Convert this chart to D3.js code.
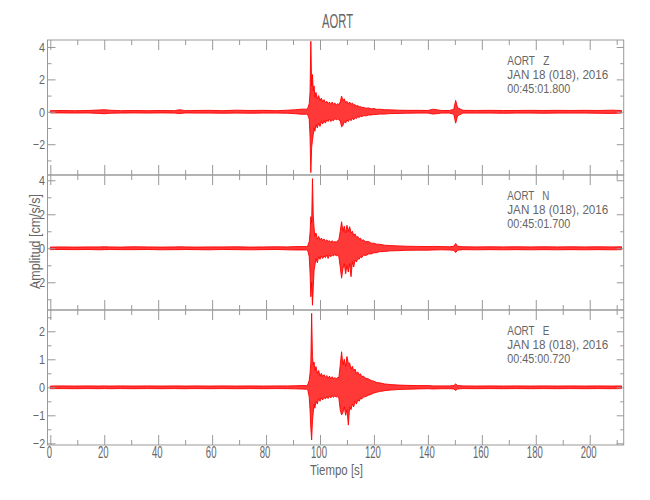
<!DOCTYPE html>
<html>
<head>
<meta charset="utf-8">
<script src="https://cdn.jsdelivr.net/npm/d3@7"></script>
<style>
  html, body { margin: 0; padding: 0; background: #fff; }
  svg { display: block; }
  text { font-family: "Liberation Sans", "DejaVu Sans", Arial, sans-serif; fill: #666; }
</style>
</head>
<body>
<svg id="chart" width="650" height="500"></svg>
<script>
// ---------------- DATA ----------------
const title = "AORT";
const station = "AORT";
const components = ["Z", "N", "E"];
const dateLabel = "JAN 18 (018), 2016";
const startTimes = ["00:45:01.800", "00:45:01.700", "00:45:00.720"];
const xLabel = "Tiempo [s]";
const yLabel = "Amplitud [cm/s/s]";

// time keyframes (s) of the envelope readings
const T = [0, 4, 9, 14, 18, 20, 22, 26, 31, 36, 41, 46, 48, 50, 54, 59, 64, 69, 74, 79, 84, 88, 91, 93,
  95, 95.5, 96, 96.3, 96.6, 96.9, 97.2, 97.5, 97.8, 98.1, 98.5, 99, 99.5, 100, 100.5, 101, 101.5, 102, 102.5, 103,
  103.5, 104, 104.5, 105, 105.5, 106, 106.5, 107, 107.5, 108, 108.5, 109, 109.5, 110, 110.5, 111, 111.5, 112, 112.5, 113,
  113.5, 114, 114.5, 115, 115.5, 116, 117, 118, 119, 120, 121, 122, 124, 126,
  129, 132, 136, 140, 142, 145, 148, 149.6, 150.3, 151, 153, 158, 163, 168, 173, 178, 183, 188, 193, 198, 203, 208, 211.8];

// Z component: upper / lower envelope (cm/s/s)
const zHi = [0.07, 0.08, 0.07, 0.08, 0.11, 0.13, 0.1, 0.07, 0.08, 0.07, 0.08, 0.07, 0.13, 0.07, 0.08, 0.09, 0.07, 0.1, 0.08, 0.09, 0.07, 0.1, 0.13, 0.16,
  0.16, 0.25, 0.5, 1.2, 4.35, 1.6, 2.3, 1.3, 1.6, 0.9, 1.2, 0.8, 1.0, 0.7, 0.85, 0.6, 0.75, 0.55, 0.65, 0.5,
  0.6, 0.45, 0.6, 0.45, 0.55, 0.4, 0.5, 0.45, 0.6, 0.97, 0.7, 0.8, 0.55, 0.65, 0.5, 0.6, 0.45, 0.55, 0.4, 0.45,
  0.35, 0.4, 0.3, 0.33, 0.26, 0.28, 0.22, 0.24, 0.18, 0.2, 0.15, 0.16, 0.13, 0.12,
  0.1, 0.09, 0.09, 0.08, 0.16, 0.08, 0.08, 0.15, 0.7, 0.25, 0.09, 0.08, 0.09, 0.08, 0.08, 0.09, 0.08, 0.09, 0.08, 0.09, 0.08, 0.1, 0.08];
const zLo = [-0.07, -0.07, -0.08, -0.07, -0.1, -0.12, -0.09, -0.08, -0.07, -0.08, -0.07, -0.08, -0.11, -0.07, -0.08, -0.08, -0.09, -0.08, -0.09, -0.08, -0.08, -0.09, -0.12, -0.15,
  -0.15, -0.2, -0.45, -1.5, -3.75, -2.2, -1.75, -1.4, -1.0, -1.2, -0.8, -1.0, -0.7, -0.9, -0.6, -0.75, -0.55, -0.7, -0.5, -0.6,
  -0.45, -0.6, -0.5, -0.55, -0.4, -0.5, -0.45, -0.5, -0.55, -0.93, -0.85, -0.6, -0.7, -0.5, -0.6, -0.45, -0.55, -0.4, -0.5, -0.35,
  -0.42, -0.3, -0.35, -0.28, -0.3, -0.24, -0.25, -0.2, -0.2, -0.16, -0.17, -0.14, -0.14, -0.11,
  -0.1, -0.09, -0.08, -0.08, -0.14, -0.08, -0.08, -0.15, -0.7, -0.25, -0.08, -0.08, -0.08, -0.09, -0.08, -0.08, -0.09, -0.08, -0.08, -0.08, -0.09, -0.1, -0.08];

// N component
const nHi = [0.07, 0.08, 0.07, 0.08, 0.08, 0.09, 0.08, 0.07, 0.09, 0.08, 0.07, 0.08, 0.09, 0.08, 0.07, 0.08, 0.08, 0.09, 0.07, 0.08, 0.09, 0.08, 0.1, 0.1,
  0.1, 0.15, 0.4, 0.9, 1.86, 1.5, 4.1, 1.9, 1.2, 0.7, 0.9, 0.55, 0.7, 0.5, 0.6, 0.45, 0.55, 0.4, 0.5, 0.4,
  0.45, 0.35, 0.45, 0.35, 0.4, 0.35, 0.45, 0.5, 1.0, 1.56, 1.0, 1.3, 0.9, 1.35, 1.0, 1.27, 0.9, 1.0, 0.75, 0.85,
  0.65, 0.7, 0.55, 0.6, 0.45, 0.5, 0.38, 0.4, 0.3, 0.3, 0.24, 0.24, 0.18, 0.16,
  0.14, 0.12, 0.11, 0.1, 0.11, 0.1, 0.09, 0.12, 0.28, 0.12, 0.09, 0.08, 0.09, 0.08, 0.09, 0.08, 0.09, 0.08, 0.09, 0.08, 0.09, 0.08, 0.09];
const nLo = [-0.08, -0.07, -0.08, -0.07, -0.09, -0.08, -0.07, -0.08, -0.08, -0.07, -0.09, -0.08, -0.08, -0.07, -0.08, -0.09, -0.07, -0.08, -0.09, -0.08, -0.07, -0.09, -0.1, -0.1,
  -0.1, -0.15, -0.5, -1.4, -2.85, -2.0, -3.35, -2.3, -1.3, -1.0, -0.6, -0.85, -0.5, -0.65, -0.45, -0.6, -0.45, -0.55, -0.4, -0.6,
  -0.4, -0.5, -0.4, -0.45, -0.35, -0.45, -0.4, -0.5, -1.1, -1.76, -1.2, -0.9, -1.5, -1.0, -1.4, -0.9, -1.67, -0.8, -1.1, -0.7,
  -0.8, -0.6, -0.65, -0.5, -0.55, -0.4, -0.42, -0.33, -0.33, -0.26, -0.26, -0.2, -0.19, -0.15,
  -0.14, -0.12, -0.11, -0.11, -0.1, -0.09, -0.1, -0.12, -0.25, -0.11, -0.08, -0.09, -0.08, -0.09, -0.08, -0.09, -0.08, -0.09, -0.08, -0.09, -0.08, -0.09, -0.08];

// E component
const eHi = [0.045, 0.05, 0.045, 0.05, 0.045, 0.05, 0.045, 0.05, 0.045, 0.05, 0.045, 0.05, 0.05, 0.045, 0.05, 0.045, 0.05, 0.045, 0.05, 0.045, 0.05, 0.05, 0.055, 0.06,
  0.06, 0.1, 0.25, 0.5, 0.9, 2.64, 1.1, 0.8, 0.9, 0.6, 0.74, 0.5, 0.6, 0.4, 0.5, 0.38, 0.45, 0.35, 0.42, 0.32,
  0.4, 0.3, 0.38, 0.3, 0.35, 0.3, 0.35, 0.35, 0.8, 1.27, 0.8, 1.0, 0.75, 1.1, 0.85, 0.87, 0.65, 0.75, 0.6, 0.65,
  0.5, 0.55, 0.45, 0.48, 0.38, 0.4, 0.32, 0.3, 0.24, 0.22, 0.17, 0.16, 0.12, 0.1,
  0.08, 0.07, 0.06, 0.06, 0.05, 0.05, 0.05, 0.06, 0.12, 0.06, 0.05, 0.045, 0.05, 0.045, 0.05, 0.045, 0.05, 0.045, 0.05, 0.045, 0.05, 0.045, 0.05];
const eLo = [-0.05, -0.045, -0.05, -0.045, -0.05, -0.045, -0.05, -0.045, -0.05, -0.045, -0.05, -0.045, -0.05, -0.05, -0.045, -0.05, -0.045, -0.05, -0.045, -0.05, -0.045, -0.05, -0.055, -0.06,
  -0.07, -0.1, -0.35, -0.8, -1.47, -1.88, -1.2, -0.9, -0.6, -0.75, -0.5, -0.6, -0.4, -0.5, -0.38, -0.45, -0.35, -0.42, -0.33, -0.4,
  -0.32, -0.38, -0.3, -0.36, -0.3, -0.35, -0.32, -0.4, -0.8, -0.99, -0.9, -0.7, -1.0, -0.8, -1.35, -0.7, -0.8, -0.6, -0.7, -0.5,
  -0.6, -0.45, -0.5, -0.4, -0.42, -0.35, -0.33, -0.28, -0.25, -0.2, -0.18, -0.15, -0.12, -0.1,
  -0.08, -0.07, -0.06, -0.05, -0.06, -0.05, -0.05, -0.06, -0.11, -0.06, -0.045, -0.05, -0.045, -0.05, -0.045, -0.05, -0.045, -0.05, -0.045, -0.05, -0.045, -0.05, -0.045];

// axis extents and ticks
const xDomain = [-1.04, 212.6];
const xMajorTicks = [0, 20, 40, 60, 80, 100, 120, 140, 160, 180, 200];
const xMinorTicks = [10, 30, 50, 70, 90, 110, 130, 150, 170, 190, 210];
const yDomains = [[-3.9, 4.43], [-3.63, 4.31], [-2.06, 2.76]];
const yMajorTicks = [[-2, 0, 2, 4], [-2, 0, 2, 4], [-2, -1, 0, 1, 2]];
const yMinorTicks = [[-3, -1, 1, 3], [-3, -1, 1, 3], [-1.5, -0.5, 0.5, 1.5, 2.5]];

// ---------------- DRAWING ----------------
const series = [[zHi, zLo], [nHi, nLo], [eHi, eLo]];
const svg = d3.select("#chart");
const L = 47.5, R = 623.7, TOP = 40, PH = 135;
const frameColor = "#999";
const textColor = "#666";
const x = d3.scaleLinear().domain(xDomain).range([L, R]);

function styleAxis(g) {
  g.select(".domain").remove();
  g.selectAll(".tick line").attr("stroke", frameColor).attr("stroke-width", 1);
}

series.forEach(([hi, lo], i) => {
  const top = TOP + i * PH, bot = top + PH;
  const y = d3.scaleLinear().domain(yDomains[i]).range([bot, top]);
  const g = svg.append("g");

  const clipId = "clip" + i;
  svg.append("clipPath").attr("id", clipId)
    .append("rect").attr("x", L).attr("y", top - 6).attr("width", R - L).attr("height", PH + 12);

  const area = d3.area()
    .x((d, j) => x(T[j]))
    .y0((d, j) => y(lo[j]))
    .y1((d, j) => y(hi[j]));
  g.append("path").datum(T)
    .attr("clip-path", `url(#${clipId})`)
    .attr("d", area)
    .attr("fill", "#ff0000").attr("fill-opacity", 0.78)
    .attr("stroke", "#ff0000").attr("stroke-width", 0.9).attr("stroke-linejoin", "miter");

  // left axis
  const la = g.append("g").attr("transform", `translate(${L},0)`)
    .call(d3.axisLeft(y).tickValues(yMajorTicks[i]).tickSize(-8).tickPadding(2.5).tickFormat(d3.format("d")));
  styleAxis(la);
  la.selectAll(".tick text")
    .style("font-size", "13.5px").style("fill", textColor)
    .attr("textLength", d => d3.format("d")(d).length * 6)
    .attr("lengthAdjust", "spacingAndGlyphs");
  styleAxis(g.append("g").attr("transform", `translate(${L},0)`)
    .call(d3.axisLeft(y).tickValues(yMinorTicks[i]).tickSize(-4).tickFormat("")));

  // right axis
  styleAxis(g.append("g").attr("transform", `translate(${R},0)`)
    .call(d3.axisRight(y).tickValues(yMajorTicks[i]).tickSize(-7).tickFormat("")));
  styleAxis(g.append("g").attr("transform", `translate(${R},0)`)
    .call(d3.axisRight(y).tickValues(yMinorTicks[i]).tickSize(-3.5).tickFormat("")));

  // top axis
  styleAxis(g.append("g").attr("transform", `translate(0,${top})`)
    .call(d3.axisTop(x).tickValues(xMajorTicks).tickSize(-10).tickFormat("")));
  styleAxis(g.append("g").attr("transform", `translate(0,${top})`)
    .call(d3.axisTop(x).tickValues(xMinorTicks).tickSize(-5).tickFormat("")));

  // bottom axis
  const ba = g.append("g").attr("transform", `translate(0,${bot})`)
    .call(d3.axisBottom(x).tickValues(xMajorTicks).tickSize(-10).tickPadding(1.5)
      .tickFormat(i === series.length - 1 ? d3.format("d") : ""));
  styleAxis(ba);
  ba.selectAll(".tick text")
    .style("font-size", "16px").style("fill", textColor)
    .attr("x", -1.5)
    .attr("textLength", d => String(d).length * 5.3)
    .attr("lengthAdjust", "spacingAndGlyphs");
  styleAxis(g.append("g").attr("transform", `translate(0,${bot})`)
    .call(d3.axisBottom(x).tickValues(xMinorTicks).tickSize(-5).tickFormat("")));

  // frame
  g.append("rect").attr("x", L).attr("y", top).attr("width", R - L).attr("height", PH)
    .attr("fill", "none").attr("stroke", frameColor).attr("stroke-width", 1);

  // annotation
  const ax = 507.3;
  const lines = [
    { s: station + "   " + components[i], w: 42 },
    { s: dateLabel, w: 101 },
    { s: startTimes[i], w: 63 }
  ];
  lines.forEach((ln, k) => {
    g.append("text").attr("x", ax).attr("y", top + 25 + k * 14.2)
      .style("font-size", "12.5px").attr("xml:space", "preserve").style("white-space", "pre")
      .attr("textLength", ln.w).attr("lengthAdjust", "spacingAndGlyphs")
      .text(ln.s);
  });
});

// title
svg.append("text").attr("x", (L + R) / 2 + 2).attr("y", 28)
  .attr("text-anchor", "middle").style("font-size", "19.5px")
  .attr("textLength", 31).attr("lengthAdjust", "spacingAndGlyphs")
  .text(title);

// x label
svg.append("text").attr("x", 336.5).attr("y", 475)
  .attr("text-anchor", "middle").style("font-size", "14px")
  .attr("textLength", 53).attr("lengthAdjust", "spacingAndGlyphs")
  .text(xLabel);

// y label
svg.append("text").attr("transform", "translate(40,241.5) rotate(-90)")
  .attr("text-anchor", "middle").style("font-size", "15px")
  .attr("textLength", 95).attr("lengthAdjust", "spacingAndGlyphs")
  .text(yLabel);
</script>
</body>
</html>
